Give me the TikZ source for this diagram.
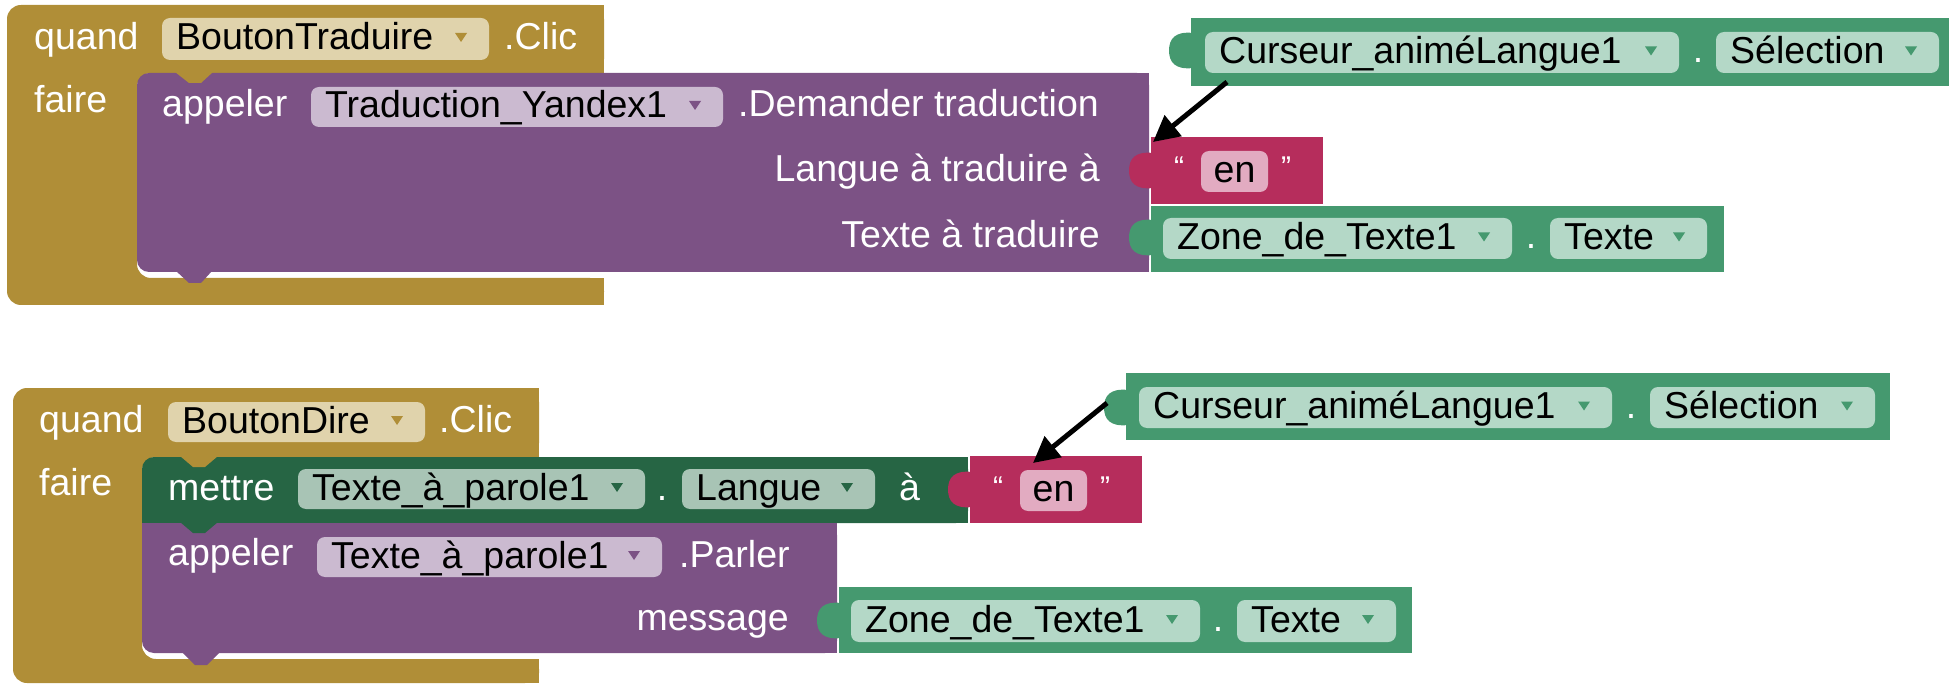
\documentclass[tikz,border=0pt]{standalone}
\usepackage{fontspec}
\setmainfont{Liberation Sans}
\usetikzlibrary{arrows.meta}

\definecolor{evgold}{HTML}{B08E37}
\definecolor{callpurple}{HTML}{7C5285}
\definecolor{setgreen}{HTML}{266544}
\definecolor{getgreen}{HTML}{45996F}
\definecolor{txtred}{HTML}{B62D5C}
\definecolor{ddgold}{HTML}{E0D3AC}
\definecolor{ddpurple}{HTML}{CBBAD0}
\definecolor{ddgreen}{HTML}{B4D8C7}
\definecolor{ddset}{HTML}{A8C4B5}
\definecolor{ddred}{HTML}{E2ABC1}

\tikzset{
  lbl/.style={inner sep=0pt, text=white, font=\fontsize{37.5}{40}\selectfont},
  dtxt/.style={lbl, text=black},
  quotemark/.style={inner sep=0pt, text=white, font=\fontsize{30}{32}\selectfont},
  pointer/.style={line width=5pt, black, -{Triangle[length=26pt,width=26pt]}},
}

% dropdown field: name, x1, y1, x2, y2, text, fill, triangle colour
\newcommand\ddbox[8]{%
  \fill[#7, rounded corners=8pt] (#2,#3) rectangle (#4,#5);
  \node[dtxt, anchor=base west] (#1) at ({#2+14},{(#3+#5)/2+11}) {#6};
  \fill[#8] ({#4-34},{(#3+#5)/2-6}) -- ({#4-22},{(#3+#5)/2-6}) -- ({#4-28},{(#3+#5)/2+3}) -- cycle;
}
% output plug on the left of a value block: x, top, bottom, colour
\newcommand\plugtab[4]{%
  \fill[#4] ({#1+2},#2) .. controls ({#1-16},{#2-2}) and ({#1-22},{#2+6}) .. ({#1-22},{(#2+#3)/2})
    .. controls ({#1-22},{#3-6}) and ({#1-16},{#3+2}) .. ({#1+2},#3) -- cycle;
}
% text literal block: name prefix, x1, y1, x2, y2
\newcommand\textlit[5]{%
  \fill[txtred] (#2,#3) rectangle (#4,#5);
  \plugtab{#2}{#3+16}{#3+51}{txtred}
  \node[quotemark, anchor=base west] (#1ql) at ({#2+23},{#3+41}) {“};
  \fill[ddred, rounded corners=8pt] ({#2+50},{#3+14}) rectangle ({#2+117},{#3+55});
  \node[dtxt, anchor=base] (#1en) at ({#2+83.5},{#3+45.5}) {en};
  \node[quotemark, anchor=base west] (#1qr) at ({#2+130},{#3+41}) {”};
}

\begin{document}
\begin{tikzpicture}[x=1pt, y=-1pt]
\useasboundingbox (0,0) rectangle (1951,684);

%% ---------- first event: BoutonTraduire.Clic ----------
\fill[evgold, rounded corners=14pt] (7,5) -- (604,5) -- (604,73) -- (137,73) -- (137,278)
  -- (604,278) -- (604,305) -- (7,305) -- cycle;
\fill[evgold] (580,5) rectangle (604,73);
\fill[evgold] (580,278) rectangle (604,305);
\node[lbl, anchor=base west] (quand1) at (34,50) {quand};
\ddbox{btn1}{162}{18}{489}{60}{BoutonTraduire}{ddgold}{evgold}
\node[lbl, anchor=base west] (clic1) at (504,50) {.Clic};
\node[lbl, anchor=base west] (faire1) at (34,113) {faire};

% call block
\fill[callpurple, rounded corners=12pt] (137,73) rectangle (1149,272);
\fill[callpurple] (1120,73) rectangle (1149,272);
\fill[evgold] (175,72) -- (189,83) -- (201,83) -- (213,72) -- cycle;
\fill[callpurple] (176,271) -- (189,283) -- (201,283) -- (212,271) -- cycle;
\node[lbl, anchor=base west] (appeler1) at (162,117) {appeler};
\ddbox{yandex}{311}{87}{723}{127}{Traduction\_Yandex1}{ddpurple}{callpurple}
\node[lbl, anchor=base west] (demander) at (738,117) {.Demander traduction};
\node[lbl, anchor=base east] (langueA) at (1100,182) {Langue à traduire à};
\node[lbl, anchor=base east] (texteA) at (1100,248) {Texte à traduire};

% language literal
\textlit{lit1}{1151}{137}{1323}{204}

% text box getter
\fill[getgreen] (1151,206) rectangle (1724,272);
\plugtab{1151}{220}{255}{getgreen}
\ddbox{zone1}{1163}{218}{1512}{259}{Zone\_de\_Texte1}{ddgreen}{getgreen}
\node[lbl, anchor=base] (dot1) at (1531,249) {.};
\ddbox{texte1}{1550}{218}{1707}{259}{Texte}{ddgreen}{getgreen}

% slider getter
\fill[getgreen] (1191,18) rectangle (1949,86);
\plugtab{1191}{33}{68}{getgreen}
\ddbox{curs1}{1205}{32}{1679}{73}{Curseur\_animéLangue1}{ddgreen}{getgreen}
\node[lbl, anchor=base] (dot2) at (1698,63) {.};
\ddbox{sel1}{1716}{32}{1939}{73}{Sélection}{ddgreen}{getgreen}

\coordinate (from1) at (1227,82);
\coordinate (to1) at (1153,142);
\draw[pointer] (from1) -- (to1);

%% ---------- second event: BoutonDire.Clic ----------
\fill[evgold, rounded corners=14pt] (13,388) -- (539,388) -- (539,457) -- (142,457) -- (142,659)
  -- (539,659) -- (539,683) -- (13,683) -- cycle;
\fill[evgold] (515,388) rectangle (539,457);
\fill[evgold] (515,659) rectangle (539,683);
\node[lbl, anchor=base west] (quand2) at (39,432) {quand};
\ddbox{btn2}{168}{402}{425}{442}{BoutonDire}{ddgold}{evgold}
\node[lbl, anchor=base west] (clic2) at (439,432) {.Clic};
\node[lbl, anchor=base west] (faire2) at (39,495) {faire};

% setter block
\fill[setgreen, rounded corners=12pt] (142,457) rectangle (968,523);
\fill[setgreen] (142,490) rectangle (968,523);
\fill[setgreen] (940,457) rectangle (968,523);
\fill[evgold] (180,456) -- (193,467) -- (205,467) -- (218,456) -- cycle;
\node[lbl, anchor=base west] (mettre) at (168,500) {mettre};
\ddbox{tts1}{298}{469}{645}{509}{Texte\_à\_parole1}{ddset}{setgreen}
\node[lbl, anchor=base] (dot3) at (662,500) {.};
\ddbox{langue}{682}{469}{875}{509}{Langue}{ddset}{setgreen}
\node[lbl, anchor=base west] (aset) at (899,500) {à};

% call block (speak)
\fill[callpurple, rounded corners=12pt] (142,523) rectangle (837,653);
\fill[callpurple] (142,523) rectangle (837,600);
\fill[callpurple] (810,523) rectangle (837,653);
\fill[callpurple] (182,652) -- (195,665) -- (207,665) -- (220,652) -- cycle;
\fill[setgreen] (180,522) -- (193,533) -- (205,533) -- (218,522) -- cycle;
\node[lbl, anchor=base west] (appeler2) at (168,565) {appeler};
\ddbox{tts2}{317}{537}{662}{577}{Texte\_à\_parole1}{ddpurple}{callpurple}
\node[lbl, anchor=base west] (parler) at (679,567) {.Parler};
\node[lbl, anchor=base east] (message) at (789,630) {message};

% language literal
\textlit{lit2}{970}{456}{1142}{523}

% text box getter
\fill[getgreen] (839,587) rectangle (1412,653);
\plugtab{839}{603}{638}{getgreen}
\ddbox{zone2}{851}{600}{1200}{642}{Zone\_de\_Texte1}{ddgreen}{getgreen}
\node[lbl, anchor=base] (dot4) at (1218,631) {.};
\ddbox{texte2}{1237}{600}{1396}{642}{Texte}{ddgreen}{getgreen}

% slider getter
\fill[getgreen] (1126,373) rectangle (1890,440);
\plugtab{1126}{390}{425}{getgreen}
\ddbox{curs2}{1139}{387}{1612}{428}{Curseur\_animéLangue1}{ddgreen}{getgreen}
\node[lbl, anchor=base] (dot5) at (1631,418) {.};
\ddbox{sel2}{1650}{387}{1875}{428}{Sélection}{ddgreen}{getgreen}

\coordinate (from2) at (1107,403);
\coordinate (to2) at (1033,463);
\draw[pointer] (from2) -- (to2);
\end{tikzpicture}
\end{document}
